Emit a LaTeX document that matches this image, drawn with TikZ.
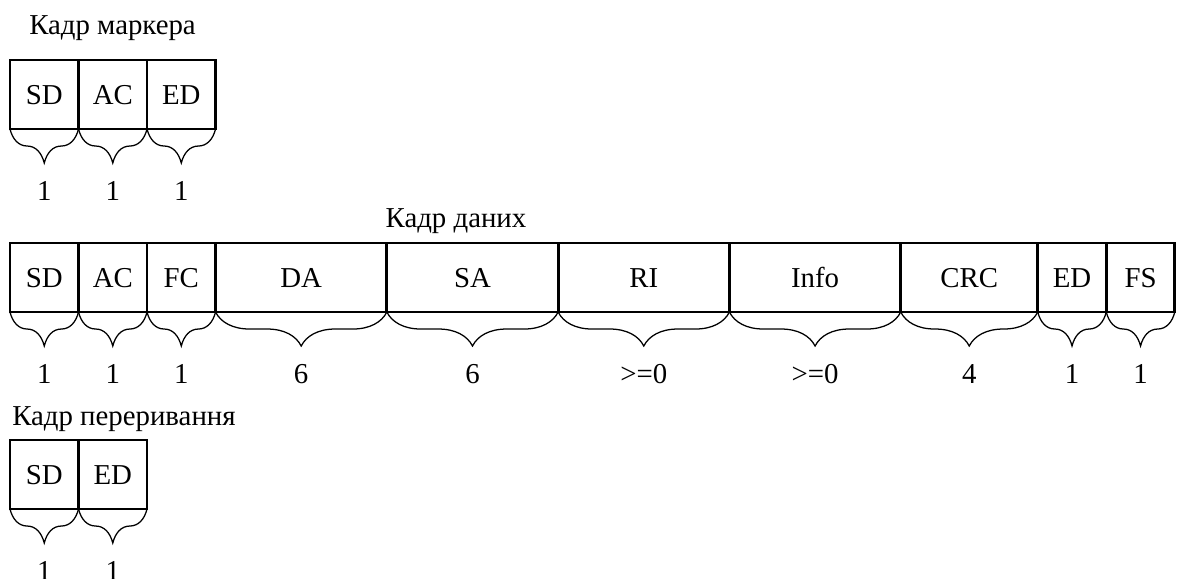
\documentclass[tikz,border=0pt]{standalone}
\usepackage{fontspec}
\setmainfont{Liberation Serif}
\usetikzlibrary{positioning,decorations.pathreplacing}

\tikzset{
    field/.style={draw, line width=2pt, outer sep=0pt, inner sep=0pt,
        minimum height=1.725cm, text height=13.5pt, text depth=0pt},
    sizebrace/.style={decorate, decoration={brace, amplitude=0.85cm, mirror}, line width=0.9pt},
    sizelabel/.style={midway, below=1.3cm, inner sep=0pt},
    framelabel/.style={inner sep=0pt}
}

\begin{document}
\begin{tikzpicture}[x=0.025cm, y=-0.025cm, font=\fontsize{20.5}{24}\selectfont]
    \useasboundingbox (0,0) rectangle (1179,579);

    % Parameters
    \def\u{1.7125} % width of one byte field (cm)

    % Token frame
    \node[framelabel, anchor=base] (tokenTitle) at (112.5,34) {Кадр маркера};
    \foreach \txt/\w/\n [count=\i] in {SD/1/1, AC/1/1, ED/1/1} {
        \pgfmathtruncatemacro{\prev}{\i-1}
        \ifnum\i=1
            \node[field, minimum width=\w*\u cm, anchor=north west] (t\i) at (10,60) {\txt};
        \else
            \node[field, minimum width=\w*\u cm, right=0pt of t\prev] (t\i) {\txt};
        \fi
        \draw[sizebrace] (t\i.south west) -- (t\i.south east) node[sizelabel] {\n};
    }

    % Data frame
    \node[framelabel, anchor=base] (dataTitle) at (456,227) {Кадр даних};
    \foreach \txt/\w/\n [count=\i] in {SD/1/1, AC/1/1, FC/1/1, DA/2.5/6, SA/2.5/6,
            RI/2.5/{>=0}, Info/2.5/{>=0}, CRC/2/4, ED/1/1, FS/1/1} {
        \pgfmathtruncatemacro{\prev}{\i-1}
        \ifnum\i=1
            \node[field, minimum width=\w*\u cm, anchor=north west] (d\i) at (10,243) {\txt};
        \else
            \node[field, minimum width=\w*\u cm, right=0pt of d\prev] (d\i) {\txt};
        \fi
        \draw[sizebrace] (d\i.south west) -- (d\i.south east) node[sizelabel] {\n};
    }

    % Abort frame
    \node[framelabel, anchor=base west] (abortTitle) at (12,425) {Кадр переривання};
    \foreach \txt/\w/\n [count=\i] in {SD/1/1, ED/1/1} {
        \pgfmathtruncatemacro{\prev}{\i-1}
        \ifnum\i=1
            \node[field, minimum width=\w*\u cm, anchor=north west] (a\i) at (10,440) {\txt};
        \else
            \node[field, minimum width=\w*\u cm, right=0pt of a\prev] (a\i) {\txt};
        \fi
        \draw[sizebrace] (a\i.south west) -- (a\i.south east) node[sizelabel] {\n};
    }
\end{tikzpicture}
\end{document}
